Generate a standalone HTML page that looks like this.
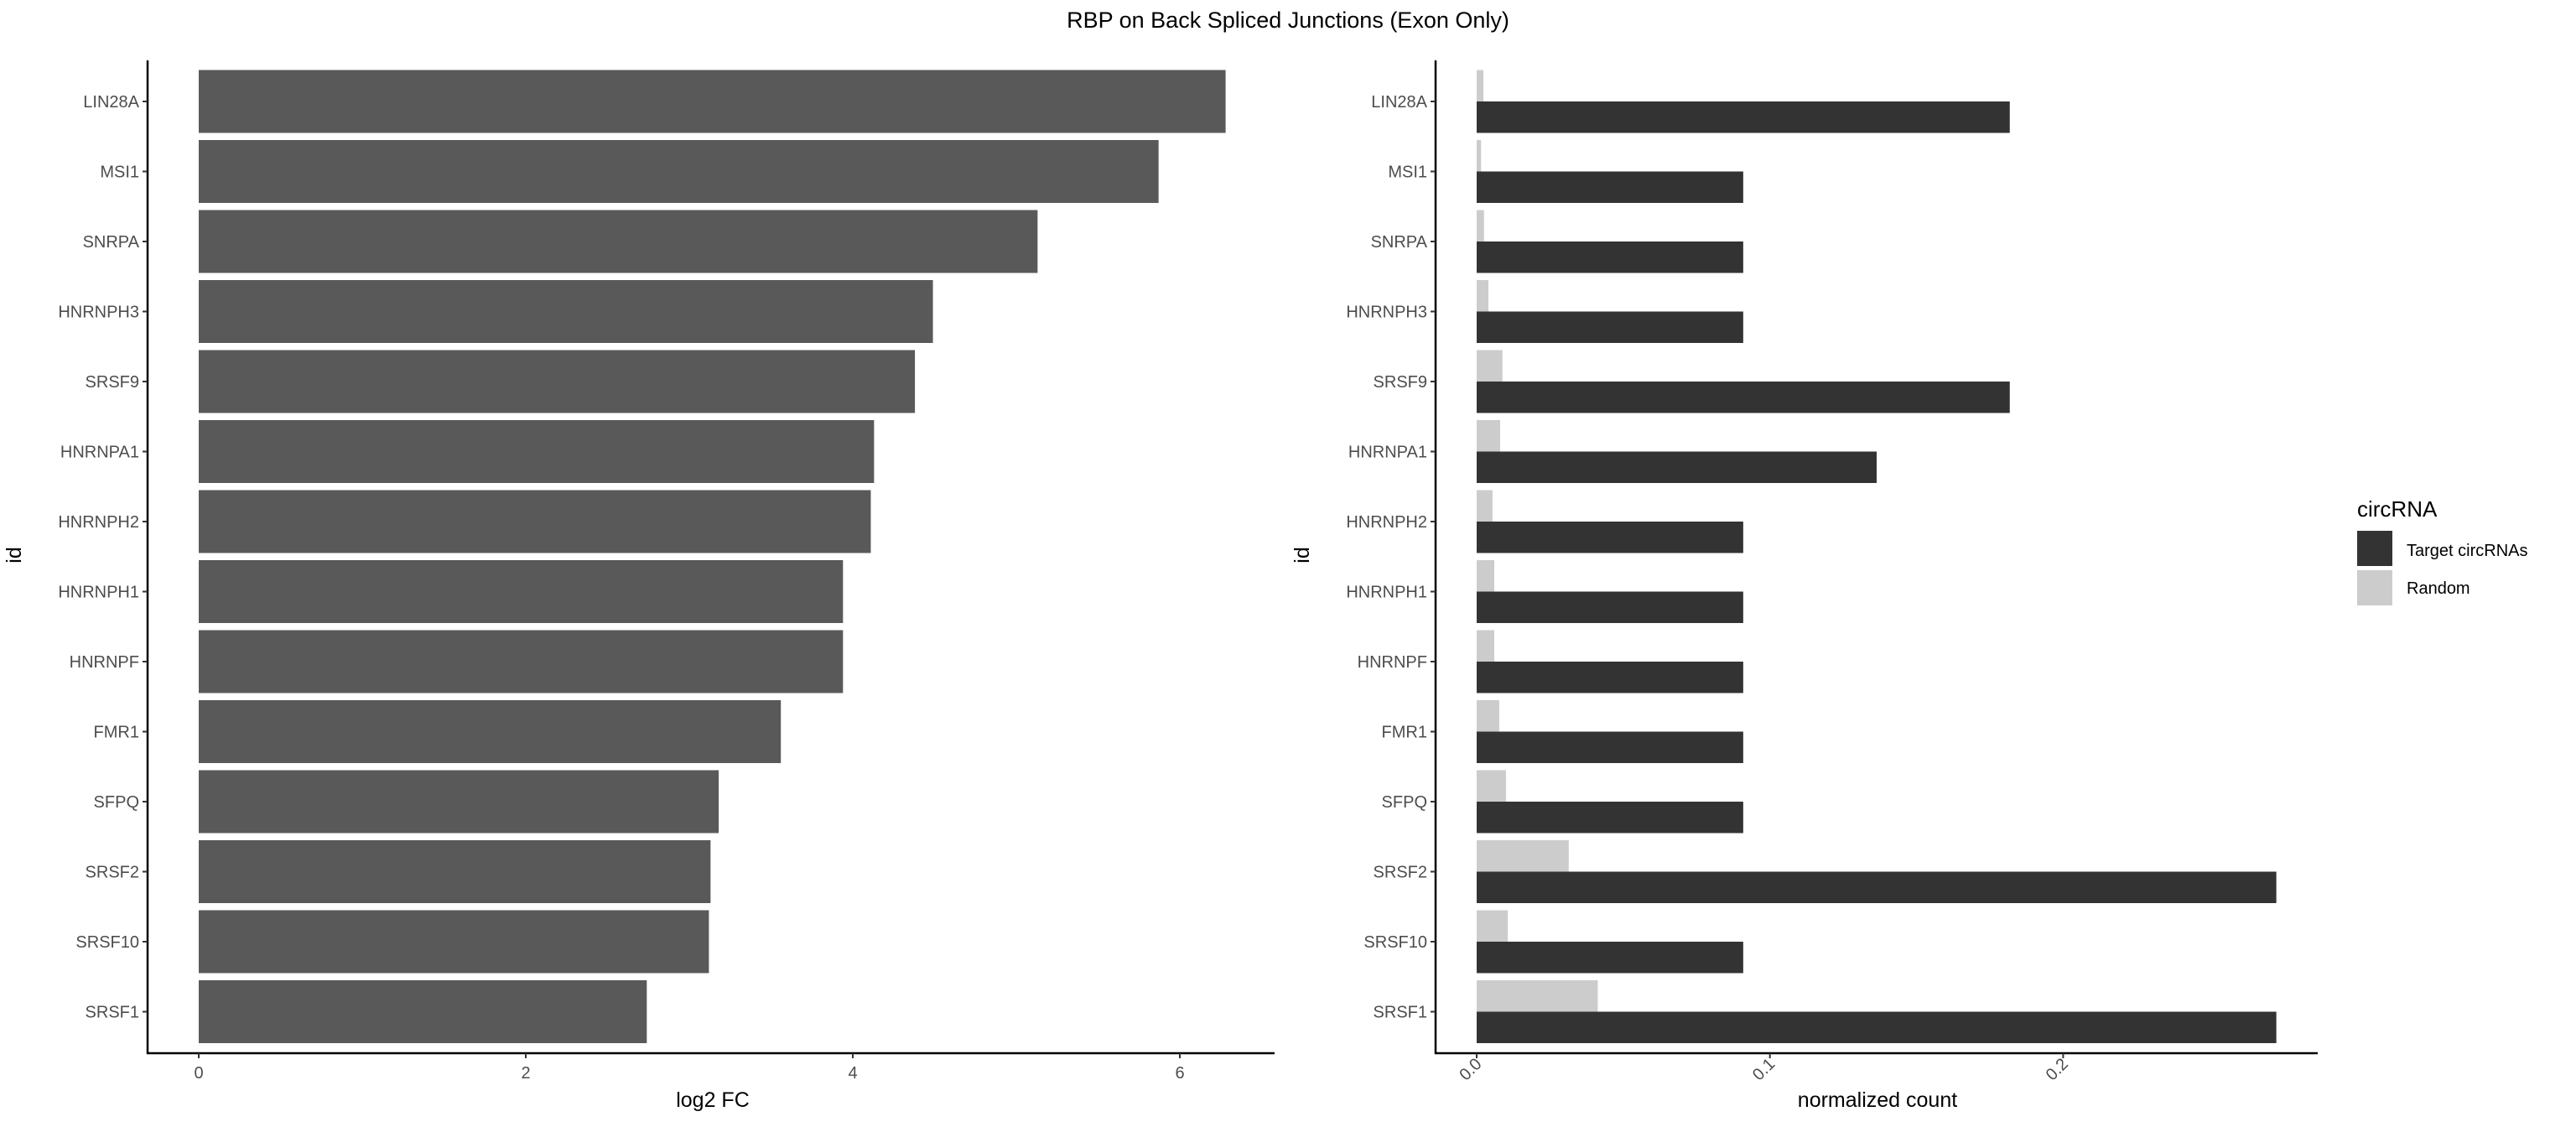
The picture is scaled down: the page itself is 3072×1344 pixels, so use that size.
<!DOCTYPE html>
<html><head><meta charset="utf-8"><style>
html,body{margin:0;padding:0;background:#fff;overflow:hidden;}
svg{display:block;font-family:"Liberation Sans",sans-serif;}
</style></head><body>
<svg id="chart" width="3072" height="1344" viewBox="0 0 3072 1344" xmlns="http://www.w3.org/2000/svg">
<text x="1536" y="33" font-size="27" text-anchor="middle" fill="#000">RBP on Back Spliced Junctions (Exon Only)</text>
<g id="left"></g>
<g id="right"></g>
<g>
<text x="2811" y="616" font-size="26" fill="#000">circRNA</text>
<rect x="2811" y="633" width="42" height="42" fill="#333333"/>
<text x="2870" y="663" font-size="20" fill="#000">Target circRNAs</text>
<rect x="2811" y="680" width="42" height="42" fill="#cccccc"/>
<text x="2870" y="708" font-size="20" fill="#000">Random</text>
</g>
</svg>
<script>
const categories = ["LIN28A","MSI1","SNRPA","HNRNPH3","SRSF9","HNRNPA1","HNRNPH2","HNRNPH1","HNRNPF","FMR1","SFPQ","SRSF2","SRSF10","SRSF1"];
const log2fc = [6.28,5.87,5.13,4.49,4.38,4.13,4.11,3.94,3.94,3.56,3.18,3.13,3.12,2.74];
const targetCounts = [0.1818,0.0909,0.0909,0.0909,0.1818,0.1364,0.0909,0.0909,0.0909,0.0909,0.0909,0.2727,0.0909,0.2727];
const randomCounts = [0.0023,0.0015,0.0025,0.004,0.0088,0.008,0.0054,0.006,0.006,0.0077,0.01,0.0314,0.0106,0.0413];
const leftTicks = [0,2,4,6];
const rightTickValues = [0,0.1,0.2];
const rightTickLabels = ["0.0","0.1","0.2"];

const NS = "http://www.w3.org/2000/svg";
function mk(parent, tag, attrs) {
  const e = document.createElementNS(NS, tag);
  for (const k in attrs) e.setAttribute(k, attrs[k]);
  parent.appendChild(e);
  return e;
}
const yTop = 72, yBottom = 1256;
const pitch = 83.5, y0 = 121, barH = 75;
const yScale = i => y0 + i * pitch;

function drawYAxis(g, axisX, prefix) {
  const ax = mk(g, "line", {x1: axisX, y1: yTop, x2: axisX, y2: yBottom + 1, stroke: "#000", "stroke-width": 2.5});
  
  
  categories.forEach((c, i) => {
    const y = yScale(i);
    const t = mk(g, "line", {x1: axisX - 6, y1: y, x2: axisX, y2: y, stroke: "#333", "stroke-width": 2});
    
    
    const l = mk(g, "text", {x: axisX - 10, y: y + 7, "font-size": 20, "text-anchor": "end", fill: "#4d4d4d"});
    l.textContent = c;
    
    
  });
  const yt = mk(g, "text", {x: 0, y: 0, "font-size": 25, "text-anchor": "middle", fill: "#000", transform: "translate(" + (axisX - 151) + ",662) rotate(-90)"});
  yt.textContent = "id";
  
  
}

// Left panel
(function () {
  const g = document.getElementById("left");
  const xs = v => 237 + v * 195;
  log2fc.forEach((v, i) => {
    const r = mk(g, "rect", {x: xs(0), y: yScale(i) - barH / 2, width: xs(v) - xs(0), height: barH, fill: "#595959"});
    
    
  });
  drawYAxis(g, 176, "left");
  const xa = mk(g, "line", {x1: 175, y1: yBottom, x2: 1520, y2: yBottom, stroke: "#000", "stroke-width": 2.5});
  
  
  leftTicks.forEach(v => {
    const t = mk(g, "line", {x1: xs(v), y1: yBottom, x2: xs(v), y2: yBottom + 6, stroke: "#333", "stroke-width": 2});
    
    
    const l = mk(g, "text", {x: xs(v), y: yBottom + 30, "font-size": 20, "text-anchor": "middle", fill: "#4d4d4d"});
    l.textContent = v;
    
    
  });
  const xt = mk(g, "text", {x: 850, y: 1320, "font-size": 25, "text-anchor": "middle", fill: "#000"});
  xt.textContent = "log2 FC";
  
  
})();

// Right panel
(function () {
  const g = document.getElementById("right");
  const xs = v => 1761 + v * 3497;
  const half = barH / 2;
  categories.forEach((c, i) => {
    const yc = yScale(i);
    const r1 = mk(g, "rect", {x: xs(0), y: yc - half, width: xs(randomCounts[i]) - xs(0), height: half, fill: "#cccccc"});
    
    
    const r2 = mk(g, "rect", {x: xs(0), y: yc, width: xs(targetCounts[i]) - xs(0), height: half, fill: "#333333"});
    
    
  });
  drawYAxis(g, 1712, "right");
  const xa = mk(g, "line", {x1: 1711, y1: yBottom, x2: 2764, y2: yBottom, stroke: "#000", "stroke-width": 2.5});
  
  
  rightTickValues.forEach((v, k) => {
    const x = xs(v);
    const t = mk(g, "line", {x1: x, y1: yBottom, x2: x, y2: yBottom + 6, stroke: "#333", "stroke-width": 2});
    
    
    const l = mk(g, "text", {x: 0, y: 0, "font-size": 20, "text-anchor": "end", fill: "#4d4d4d", transform: "translate(" + (x + 7) + "," + (yBottom + 14) + ") rotate(-45)"});
    l.textContent = rightTickLabels[k];
    
    
  });
  const xt = mk(g, "text", {x: 2239, y: 1320, "font-size": 25, "text-anchor": "middle", fill: "#000"});
  xt.textContent = "normalized count";
  
  
})();
</script>
</body></html>
